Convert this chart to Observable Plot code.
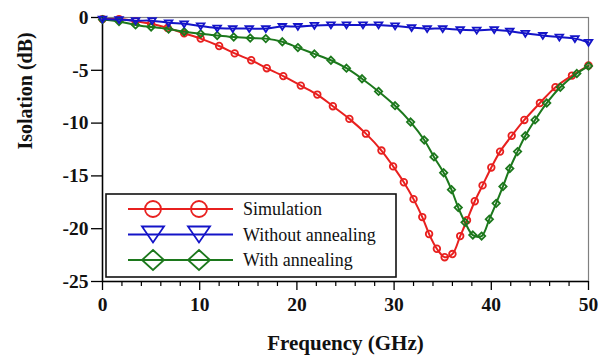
<!DOCTYPE html>
<html><head><meta charset="utf-8">
<script src="https://cdn.jsdelivr.net/npm/d3@7"></script>
<script src="https://cdn.jsdelivr.net/npm/@observablehq/plot@0.6"></script>
<style>body{margin:0;background:#fff;} svg text{font-family:'Liberation Serif','DejaVu Serif',serif !important;}</style>
</head><body><div id="chart"></div>
<script>
// Simulation
const simFreq = [0,1.7,3.4,5.0,6.7,8.4,10.1,12.0,13.6,15.3,16.9,18.6,20.4,22.1,23.7,25.4,27.1,28.7,29.9,31.0,32.0,32.9,33.6,34.4,35.2,36.0,36.8,37.5,38.3,39.1,40.0,40.9,42.1,43.4,45.0,46.6,48.3,50];
const simDb   = [-0.15,-0.15,-0.35,-0.6,-1.0,-1.5,-2.0,-2.7,-3.4,-4.05,-4.8,-5.55,-6.45,-7.3,-8.4,-9.6,-11.0,-12.6,-14.1,-15.6,-17.2,-18.9,-20.5,-21.9,-22.7,-22.4,-20.7,-19.2,-17.4,-15.9,-14.2,-12.7,-11.2,-9.7,-8.1,-6.6,-5.5,-4.55];
// With annealing
const annFreq = [0,1.7,3.4,5.0,6.8,8.4,10.1,11.8,13.5,15.2,16.8,18.5,20.1,21.8,23.5,25.1,26.7,28.4,30.1,31.7,33.1,34.1,35.1,35.9,36.6,37.3,38.1,39.0,39.8,40.5,41.2,41.9,42.7,43.5,44.5,45.7,47.1,48.8,50];
const annDb   = [-0.2,-0.38,-0.7,-0.9,-1.1,-1.35,-1.55,-1.7,-1.85,-1.95,-2.0,-2.3,-2.85,-3.45,-4.05,-4.8,-5.8,-7.0,-8.35,-9.9,-11.6,-13.2,-14.7,-16.3,-18.0,-19.4,-20.6,-20.7,-19.1,-17.6,-16.0,-14.3,-12.7,-11.2,-9.7,-8.1,-6.6,-5.3,-4.6];
// Without annealing
const noAnnFreq = [0,1.7,3.4,5.1,6.8,8.4,10.1,11.8,13.4,15.1,16.8,18.5,20.1,21.8,23.5,25.1,26.8,28.4,30.1,31.8,33.4,35.0,36.8,38.5,40.3,41.9,43.5,45.3,47.0,48.6,50];
const noAnnDb   = [-0.15,-0.2,-0.3,-0.3,-0.5,-0.6,-0.8,-1.0,-1.05,-1.05,-1.05,-0.85,-0.85,-0.75,-0.7,-0.7,-0.7,-0.7,-0.8,-0.95,-1.05,-1.05,-1.15,-1.2,-1.15,-1.3,-1.5,-1.7,-1.85,-2.0,-2.35];

const seriesNames = ["Simulation", "Without annealing", "With annealing"];
const xMajorTicks = [0,10,20,30,40,50];
const xMinorTicks = [2,4,6,8,12,14,16,18,22,24,26,28,32,34,36,38,42,44,46,48];
const yTicks = [-25,-20,-15,-10,-5,0];

const RED = "#e8201f", BLUE = "#1414c8", GREEN = "#1c781c";

const triDown = {
  draw(ctx, size) {
    const r = Math.sqrt(size / Math.PI);
    ctx.moveTo(-r * 1.15, -r * 0.75);
    ctx.lineTo(r * 1.15, -r * 0.75);
    ctx.lineTo(0, r * 1.05);
    ctx.closePath();
  }
};

const series = [
  {name: seriesNames[0], color: RED, symbol: "circle", freq: simFreq, db: simDb},
  {name: seriesNames[2], color: GREEN, symbol: "diamond2", freq: annFreq, db: annDb},
  {name: seriesNames[1], color: BLUE, symbol: triDown, freq: noAnnFreq, db: noAnnDb}
];
const tables = series.map(s => s.freq.map((f, i) => ({f, db: s.db[i]})));

const font = "'Liberation Serif', 'DejaVu Serif', serif";
const marks = [
  Plot.frame({stroke: "#808080", strokeWidth: 1.2}),
  Plot.ruleX([0], {stroke: "#000", strokeWidth: 1.5}),
  Plot.ruleY([-25], {stroke: "#000", strokeWidth: 1.5}),
  Plot.axisY({ticks: yTicks, tickSize: 11, tickPadding: 3, tickFormat: d => String(d),
    fontSize: 19.5, fontWeight: "bold", label: null, fill: "#111", strokeWidth: 1.3}),
  Plot.axisX({ticks: xMajorTicks, tickSize: 9, tickPadding: 7, tickFormat: d => String(d),
    fontSize: 19.5, fontWeight: "bold", label: null, fill: "#111", strokeWidth: 1.3}),
  Plot.axisX({ticks: xMinorTicks, tickSize: 5, tickFormat: () => "", label: null, strokeWidth: 1.2}),
  Plot.text(["Frequency (GHz)"], {frameAnchor: "bottom", dy: 68, fontSize: 21, fontWeight: "bold", fill: "#111"}),
  Plot.text(["Isolation (dB)"], {frameAnchor: "left", dx: -77, rotate: -90, fontSize: 20, fontWeight: "bold", fill: "#111"})
];
series.forEach((s, i) => {
  marks.push(Plot.line(tables[i], {x: "f", y: "db", stroke: s.color, strokeWidth: 2, curve: "catmull-rom"}));
  marks.push(Plot.dot(tables[i], {x: "f", y: "db", r: 3.3, symbol: s.symbol, stroke: s.color, strokeWidth: 1.8, fill: "none"}));
});

const svg = Plot.plot({
  width: 602, height: 360,
  marginLeft: 102, marginRight: 14, marginTop: 17, marginBottom: 79,
  x: {domain: [0, 50]},
  y: {domain: [-25, 0]},
  style: {fontFamily: font, background: "#fff"},
  marks
});
document.getElementById("chart").appendChild(svg);

// Legend
const lg = d3.select(svg).append("g");
lg.append("rect").attr("x", 106).attr("y", 194).attr("width", 290).attr("height", 83)
  .attr("fill", "#fff").attr("stroke", "#111").attr("stroke-width", 1.6);
const legendItems = [
  {name: seriesNames[0], color: RED, kind: "circle"},
  {name: seriesNames[1], color: BLUE, kind: "tri"},
  {name: seriesNames[2], color: GREEN, kind: "diamond"}
];
const shapePath = k => {
  if (k === "circle") return d3.symbol(d3.symbolCircle, Math.PI * 8 * 8)();
  if (k === "tri") return "M-11,-8L11,-8L0,8Z";
  return "M0,-10L11,0L0,10L-11,0Z";
};
legendItems.forEach((it, i) => {
  const y = 209 + i * 25.5;
  lg.append("line").attr("x1", 128).attr("x2", 233).attr("y1", y).attr("y2", y)
    .attr("stroke", it.color).attr("stroke-width", 2);
  [153, 199].forEach(x => lg.append("path").attr("d", shapePath(it.kind))
    .attr("transform", `translate(${x},${y})`).attr("fill", "none")
    .attr("stroke", it.color).attr("stroke-width", 1.8));
  lg.append("text").attr("x", 243).attr("y", y).attr("dy", "0.35em")
    .attr("text-anchor", "start")
    .attr("font-family", font).attr("font-size", 18).attr("fill", "#111").text(it.name);
});
</script></body></html>
